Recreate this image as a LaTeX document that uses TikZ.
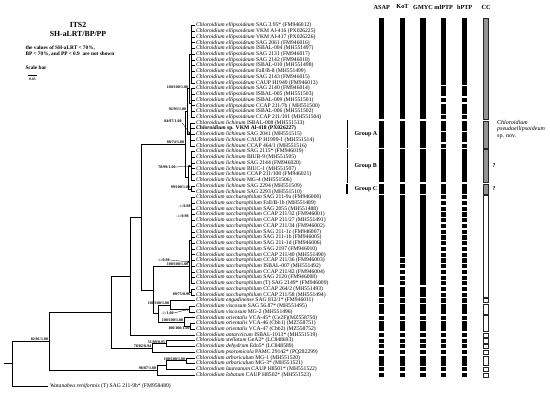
\documentclass[tikz,border=0pt]{standalone}
\usepackage{fontspec}
\setmainfont{Liberation Serif}
\usetikzlibrary{arrows.meta}
\newcommand\tx[3]{\node[leaf] (t#1) at (195,{ry(#1)}) {\textit{#2} #3};}
\newcommand\colbars[3]{\foreach \a/\b in {#2} {\path[#3] ({#1-2.6},{ifthenelse(\a==1,18.5,ry(\a)-2.1)}) rectangle ({#1+2.6},{ry(\b)+2.1});}}
\begin{document}
\begin{tikzpicture}[x=1pt,y=-1pt,
  declare function={ry(\r)=25.5+(\r-1)*5.73;},
  br/.style={line width=0.5pt},
  leaf/.style={anchor=west,inner xsep=1pt,inner ysep=0pt,font=\fontsize{5.6}{6}\selectfont},
  sup/.style={inner sep=0.2pt,font=\fontsize{4}{4.5}\selectfont\bfseries},
  lead/.style={line width=0.3pt,-{Triangle[length=2.4pt,width=2pt]}},
  hdr/.style={font=\fontsize{6.2}{7}\selectfont\bfseries},
  blackbar/.style={fill=black},
  greybar/.style={fill=black!42,draw=black!85,line width=0.4pt},
  whitebar/.style={fill=white,draw=black!85,line width=0.4pt},
  grp/.style={font=\fontsize{6}{7}\selectfont\bfseries,anchor=west}
]
\useasboundingbox (0,0) rectangle (550,395);

% ---------------- header text
\node[font=\fontsize{7.8}{9}\selectfont\bfseries] (title1) at (78,25) {ITS2};
\node[font=\fontsize{7.8}{9}\selectfont\bfseries] (title2) at (78,34) {SH-aLRT/BP/PP};
\node[font=\fontsize{5.3}{6}\selectfont\bfseries,anchor=west] (note1) at (22,48) {the values of SH-aLRT < 70\%,};
\node[font=\fontsize{5.3}{6}\selectfont\bfseries,anchor=west] (note2) at (22,54) {BP < 70\%, and PP < 0.9\ \ are not shown};
\node[font=\fontsize{5.3}{6}\selectfont\bfseries,anchor=west] (scl) at (22,68) {Scale bar};
\coordinate (sb1) at (28,75.5); \coordinate (sb2) at (37,75.5);
\draw[line width=0.6pt] (sb1) -- (sb2);
\node[font=\fontsize{3.6}{4}\selectfont\bfseries] (sbl) at (32.5,79.5) {0.05};

% ---------------- taxa
\tx{1}{Chloroidium ellipsoideum}{SAG 3.95* (FM946012)}
\tx{2}{Chloroidium ellipsoideum}{VKM Al-416 (PX026225)}
\tx{3}{Chloroidium ellipsoideum}{VKM Al-417 (PX026226)}
\tx{4}{Chloroidium ellipsoideum}{SAG 2061 (FM946016)}
\tx{5}{Chloroidium ellipsoideum}{ISBAL-004 (MH551497)}
\tx{6}{Chloroidium ellipsoideum}{SAG 2131 (FM946017)}
\tx{7}{Chloroidium ellipsoideum}{SAG 2142 (FM946018)}
\tx{8}{Chloroidium ellipsoideum}{ISBAL-010 (MH551498)}
\tx{9}{Chloroidium ellipsoideum}{Fall/B-8 (MH551499)}
\tx{10}{Chloroidium ellipsoideum}{SAG 2143 (FM946015)}
\tx{11}{Chloroidium ellipsoideum}{CAUP H1949 (FM946013)}
\tx{12}{Chloroidium ellipsoideum}{SAG 2140 (FM946014)}
\tx{13}{Chloroidium ellipsoideum}{ISBAL-005 (MH551503)}
\tx{14}{Chloroidium ellipsoideum}{ISBAL-009 (MH551501)}
\tx{15}{Chloroidium ellipsoideum}{CCAP 211/7b ( MH551500)}
\tx{16}{Chloroidium ellipsoideum}{ISBAL-006 (MH551502)}
\tx{17}{Chloroidium ellipsoideum}{CCAP 211/101 (MH551504)}
\tx{18}{Chloroidium lichinum}{ISBAL-008 (MH551513)}
\node[leaf,font=\fontsize{5.6}{6}\selectfont\bfseries] (t19) at (195,{ry(19)}) {\textit{Chloroidium} sp. VKM Al-418 (PX026227)};
\tx{20}{Chloroidium lichinum}{SAG 2041 (MH551515)}
\tx{21}{Chloroidium lichinum}{CAUP H1999-1 (MH551514)}
\tx{22}{Chloroidium lichinum}{CCAP 464/1 (MH551516)}
\tx{23}{Chloroidium lichinum}{SAG 2115* (FM946019)}
\tx{24}{Chloroidium lichinum}{BIUB-9 (MH551505)}
\tx{25}{Chloroidium lichinum}{SAG 2144 (FM946020)}
\tx{26}{Chloroidium lichinum}{BIUC-1 (MH551507)}
\tx{27}{Chloroidium lichinum}{CCAP 211/108 (FM946021)}
\tx{28}{Chloroidium lichinum}{MG-4 (MH551506)}
\tx{29}{Chloroidium lichinum}{SAG 2294 (MH551509)}
\tx{30}{Chloroidium lichinum}{SAG 2293 (MH551510)}
\tx{31}{Chloroidium saccharophilum}{SAG 211-9a (FM946000)}
\tx{32}{Chloroidium saccharophilum}{Fall/B-1b (MH551489)}
\tx{33}{Chloroidium saccharophilum}{SAG 2055 (MH551488)}
\tx{34}{Chloroidium saccharophilum}{CCAP 211/32 (FM946001)}
\tx{35}{Chloroidium saccharophilum}{CCAP 211/27 (MH551491)}
\tx{36}{Chloroidium saccharophilum}{CCAP 211/34 (FM946002)}
\tx{37}{Chloroidium saccharophilum}{SAG 211-1c (FM946007)}
\tx{38}{Chloroidium saccharophilum}{SAG 211-1b (FM946005)}
\tx{39}{Chloroidium saccharophilum}{SAG 211-1d (FM946006)}
\tx{40}{Chloroidium saccharophilum}{SAG 2197 (FM946010)}
\tx{41}{Chloroidium saccharophilum}{CCAP 211/40 (MH551490)}
\tx{42}{Chloroidium saccharophilum}{CCAP 211/36 (FM946003)}
\tx{43}{Chloroidium saccharophilum}{ISBAL-007 (MH551492)}
\tx{44}{Chloroidium saccharophilum}{CCAP 211/42 (FM946004)}
\tx{45}{Chloroidium saccharophilum}{SAG 2120 (FM946008)}
\tx{46}{Chloroidium saccharophilum}{(T) SAG 2149* (FM946009)}
\tx{47}{Chloroidium saccharophilum}{CCAP 264/2 (MH551493)}
\tx{48}{Chloroidium saccharophilum}{CCAP 211/58 (MH551494)}
\tx{49}{Chloroidium engadinense}{SAG 812/1* (FM946011)}
\tx{50}{Chloroidium viscosum}{SAG 56.87* (MH551495)}
\tx{51}{Chloroidium viscosum}{MG-2 (MH551496)}
\tx{52}{Chloroidium orientalis}{VCA-45* (Ce2F)(MZ558750)}
\tx{53}{Chloroidium orientalis}{VCA-46 (Cbb1) (MZ558751)}
\tx{54}{Chloroidium orientalis}{VCA-47 (Cbb2) (MZ558752)}
\tx{55}{Chloroidium antarcticum}{ISBAL-1013* (MH551519)}
\tx{56}{Chloroidium stellatum}{GeA2* (LC848693)}
\tx{57}{Chloroidium dehydrum}{Edo5* (LC848589)}
\tx{58}{Chloroidium psoromicola}{PAMC 29142* (PQ282299)}
\tx{59}{Chloroidium arboriculum}{MG-1 (MH551520)}
\tx{60}{Chloroidium arboriculum}{MG-3* (MH551521)}
\tx{61}{Chloroidium laureanum}{CAUP H8501* (MH551522)}
\tx{62}{Chloroidium lobatum}{CAUP H8502* (MH551523)}
\node[leaf,inner xsep=2pt] (tw) at (48,386) {\textit{Watanabea reniformis} (T) SAG 211-9b* (FM958480)};

% ---------------- internal nodes
\coordinate (ellX) at (191,54.15);
\coordinate (ellY) at (191.5,102.86);
\coordinate (ell) at (189,88.5);
\coordinate (GA) at (190.5,134.37);
\coordinate (ellA) at (187,111.4);
\coordinate (GB) at (191,165.89);
\coordinate (GC) at (191,188.8);
\coordinate (BC) at (188,177.35);
\coordinate (H) at (185,144.4);
\coordinate (SX) at (191,240.38);
\coordinate (SY) at (191,291.95);
\coordinate (S) at (189,266.16);
\coordinate (V) at (189,309.14);
\coordinate (K) at (170,304.84);
\coordinate (O2) at (190.5,326.33);
\coordinate (L) at (184,322.03);
\coordinate (J) at (158,313.43);
\coordinate (I) at (153,289.8);
\coordinate (G) at (141,217.1);
\coordinate (D) at (130,276);
\coordinate (F) at (166,343.52);
\coordinate (E) at (152,347.81);
\coordinate (B) at (111,311.9);
\coordinate (arb) at (186,360.7);
\coordinate (C1) at (166,365);
\coordinate (C) at (157,370.02);
\coordinate (A) at (49,341);
\coordinate (R) at (12,363.5);
\coordinate (R0) at (4,363.5);

% ---------------- branches
\begin{scope}[br]
\draw (R0) -- (R);
\draw (R) |- (A); \draw (R) |- (tw.west);
\draw (A) |- (B); \draw (A) |- (C);
\draw (B) |- (D); \draw (B) |- (E);
\draw (D) |- (G); \draw (D) |- (t55.west);
\draw (G) |- (H); \draw (G) |- (I);
\draw (H) |- (ellA); \draw (H) |- (BC);
\draw (ellA) |- (ell); \draw (ellA) |- (GA);
\draw (ell) |- (ellX); \draw (ell) |- (ellY);
\foreach \i in {1,...,11} \draw (ellX) |- (t\i.west);
\foreach \i in {12,...,17} \draw (ellY) |- (t\i.west);
\foreach \i in {18,...,22} \draw (GA) |- (t\i.west);
\draw (BC) |- (GB); \draw (BC) |- (GC);
\foreach \i in {23,...,28} \draw (GB) |- (t\i.west);
\foreach \i in {29,30} \draw (GC) |- (t\i.west);
\draw (I) |- (S); \draw (I) |- (J);
\draw (S) |- (SX); \draw (S) |- (SY);
\foreach \i in {31,...,46} \draw (SX) |- (t\i.west);
\foreach \i in {47,48} \draw (SY) |- (t\i.west);
\draw (J) |- (K); \draw (J) |- (L);
\draw (K) |- (t49.west); \draw (K) |- (V);
\foreach \i in {50,51} \draw (V) |- (t\i.west);
\draw (L) |- (t52.west); \draw (L) |- (O2);
\foreach \i in {53,54} \draw (O2) |- (t\i.west);
\draw (E) |- (F); \draw (E) |- (t58.west);
\foreach \i in {56,57} \draw (F) |- (t\i.west);
\draw (C) |- (C1); \draw (C) |- (t62.west);
\draw (C1) |- (arb); \draw (C1) |- (t61.west);
\foreach \i in {59,60} \draw (arb) |- (t\i.west);
\end{scope}

% ---------------- support values
\node[sup,anchor=south east] (sA) at ([xshift=-0.5pt]A) {82/81/1.00};
\node[sup,anchor=south east] (sC) at ([xshift=-0.5pt]C) {98/87/1.00};
\node[sup,anchor=south east] (sarb) at ([xshift=-0.5pt]arb) {100/100/1.00};
\node[sup,anchor=south east] (sE) at ([xshift=-0.5pt]E) {78/82/0.94};
\node[sup,anchor=south east] (sF) at ([xshift=-0.5pt]F) {51/89/0.95};
\node[sup,anchor=south east] (sell) at ([xshift=-0.5pt]ell) {100/100/1.00};
\node[sup,anchor=south east] (sellA) at ([xshift=-0.5pt]ellA) {92/93/1.00};
\node[sup,anchor=south east] (sH) at ([xshift=-0.5pt]H) {88/74/1.00};
\node[sup,anchor=east] (sGA) at (182,121) {84/97/1.00};
\draw[lead] (sGA.south east) -- (GA);
\node[sup,anchor=east] (sGB) at (176,167) {78/99/1.00};
\draw[lead] (sGB.east) -- (GB);
\node[sup,anchor=south east] (sGC) at ([xshift=-0.5pt]GC) {99/100/1.00};
\node[sup,anchor=east] (sS1) at (191,206) {-/-/0.98};
\node[sup,anchor=east] (sS2) at (189,216) {-/-/0.98};
\coordinate (SZ) at (190,262);
\node[sup,anchor=east] (sS3) at (170,260) {-/-/0.98};
\draw[lead] (sS3.east) -- (SZ);
\node[sup,anchor=south east] (sS) at ([xshift=-0.5pt]S) {100/100/1.00};
\node[sup,anchor=north east] (sSY) at ([xshift=-0.5pt]SY) {89/75/0.96};
\node[sup,anchor=south east] (sK) at ([xshift=-0.5pt]K) {100/100/1.00};
\node[sup,anchor=east] (sV) at (174,313) {-/-/1.00};
\draw[lead] (sV.east) -- (V);
\node[sup,anchor=south east] (sL) at ([xshift=-0.5pt]L) {100/100/1.00};
\node[sup,anchor=north east] (sO2) at ([xshift=-0.5pt]O2) {100/100/1.00};

% ---------------- delimitation columns
\node[hdr] (hA) at (381.7,7) {ASAP};
\node[hdr] (hK) at (402.5,7) {KoT};
\node[hdr] (hG) at (423,7) {GMYC};
\node[hdr] (hM) at (443.7,7) {mlPTP};
\node[hdr] (hB) at (464.7,7) {bPTP};
\node[hdr] (hC) at (486,7) {CC};

\colbars{381.7}{1/17,18/22,23/28,29/30,31/46,47/48,49/49,50/51,52/52,53/54,55/55,56/56,57/57,58/58,59/60,61/61,62/62}{blackbar}
\colbars{402.5}{1/17,18/22,23/28,29/30,31/41,42/42,43/43,44/44,45/45,46/46,47/48,49/49,50/51,52/52,53/54,55/55,56/56,57/57,58/58,59/60,61/61,62/62}{blackbar}
\colbars{423}{1/17,18/22,23/28,29/30,31/46,47/48,49/49,50/51,52/52,53/54,55/55,56/56,57/57,58/58,59/60,61/61,62/62}{blackbar}
\colbars{443.7}{1/11,12/13,14/14,15/16,17/17,18/19,20/21,22/22,23/28,29/30,31/31,32/32,33/33,34/34,35/35,36/36,37/37,38/38,39/39,40/40,41/41,42/42,43/43,44/44,45/45,46/46,47/47,48/48,49/49,50/51,52/52,53/54,55/55,56/56,57/57,58/58,59/60,61/61,62/62}{blackbar}
\colbars{464.7}{1/11,12/13,14/14,15/16,17/17,18/19,20/21,22/22,23/28,29/30,31/31,32/32,33/33,34/34,35/35,36/36,37/37,38/38,39/39,40/40,41/41,42/42,43/43,44/44,45/45,46/46,47/47,48/48,49/49,50/51,52/52,53/54,55/55,56/56,57/57,58/58,59/60,61/61,62/62}{blackbar}
\colbars{486}{1/17,18/22,23/28,29/30}{greybar}
\colbars{486}{31/48,49/49,50/51,52/54,55/55,56/56,57/57,58/58,59/60,61/61,62/62}{whitebar}

\node[font=\fontsize{6}{7}\selectfont\bfseries] (q1) at (494,166) {?};
\node[font=\fontsize{6}{7}\selectfont\bfseries] (q2) at (494,189) {?};
\node[font=\fontsize{6}{6.4}\selectfont,anchor=north west,align=left,inner sep=0pt] (nsp) at (497,120) {\textit{Chloroidium}\\\textit{pseudoellipsoideum}\\sp. nov.};

% ---------------- groups
\coordinate (gA1) at (347,120.5); \coordinate (gA2) at (347,148.2);
\coordinate (gB1) at (347,149.5); \coordinate (gB2) at (347,182.6);
\coordinate (gC1) at (347,184); \coordinate (gC2) at (347,193.8);
\draw[line width=0.6pt] (gA1) -- (gA2);
\draw[line width=0.6pt] (gB1) -- (gB2);
\draw[line width=1.3pt] (gC1) -- (gC2);
\node[grp] (lA) at (351,134.4) {Group A};
\node[grp] (lB) at (351,166) {Group B};
\node[grp] (lC) at (351,189) {Group C};
\end{tikzpicture}
\end{document}
